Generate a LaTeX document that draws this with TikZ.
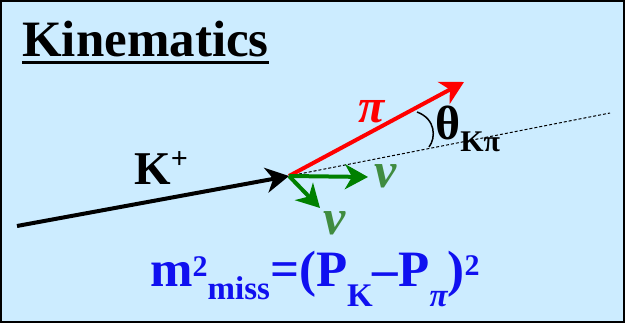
\documentclass[tikz,border=0pt]{standalone}
\usepackage{fontspec}
\setmainfont{Liberation Serif}
\usetikzlibrary{arrows.meta}
\definecolor{bgblue}{HTML}{CCECFF}
\definecolor{nugreen}{HTML}{408C40}
\definecolor{arrgreen}{HTML}{008000}
\definecolor{formblue}{HTML}{1010F0}
\newcommand{\fs}[1]{\fontsize{#1}{#1}\selectfont}
\begin{document}
\begin{tikzpicture}[x=1pt,y=-1pt,
  vec/.style={line width=4pt, -{Stealth[length=23pt,width=25pt,inset=7pt]}},
  lbl/.style={inner sep=0pt, anchor=base west, font=\bfseries},
  glbl/.style={inner sep=0pt, anchor=base}]
\useasboundingbox (0,0) rectangle (625,323);
\fill[bgblue] (0,0) rectangle (625,323);
\draw[line width=2.2pt] (1,1) rectangle (624,322);
% title
\node[lbl, font=\bfseries\fs{51}] (title) at (22,57) {Kinematics};
\draw[line width=3pt] ([yshift=-6pt]title.base west) -- ([yshift=-6pt]title.base east);
% points
\coordinate (O) at (289,176);
\coordinate (Kstart) at (17,226);
\coordinate (piend) at (464,82);
\coordinate (dotend) at (610,113);
\coordinate (nuaend) at (368,177);
\coordinate (nubend) at (320,208);
% dotted reference line
\draw[line width=1pt, dash pattern=on 3pt off 2pt] (O) -- (dotend);
% vectors
\draw[vec] (Kstart) -- (O);
\draw[vec, red] (O) -- (piend);
\draw[vec, arrgreen] (O) -- (nuaend);
\draw[vec, arrgreen] (O) -- (nubend);
% angle arc
\draw[line width=1.5pt] (417,112) .. controls (436,119) and (436,138) .. (429,147);
% labels
\node[lbl, font=\bfseries\fs{47}] (Klbl) at (134,185) {K\raisebox{16pt}{\fs{30}+}};
\node[glbl, text=red, font=\bfseries\itshape\fs{48}] (pilbl) at (372,123) {π};
\node[inner sep=0pt, anchor=base west, font=\bfseries\fs{48}] (theta) at (435,140) {θ\raisebox{-12pt}{\fs{30}Kπ}};
\node[glbl, text=nugreen, font=\bfseries\itshape\fs{50}] (nua) at (386,188) {ν};
\node[glbl, text=nugreen, font=\bfseries\itshape\fs{50}] (nub) at (335,235) {ν};
% formula
\node[lbl, text=formblue, font=\bfseries\fs{51}] (formula) at (150,287)
  {m\raisebox{10pt}{\fs{30}2}\raisebox{-13pt}{\fs{33}miss}=(P\raisebox{-20pt}{\fs{33}K}–P\raisebox{-20pt}{\fs{33}\itshape π})\raisebox{11pt}{\fs{30}2}};
\end{tikzpicture}
\end{document}
